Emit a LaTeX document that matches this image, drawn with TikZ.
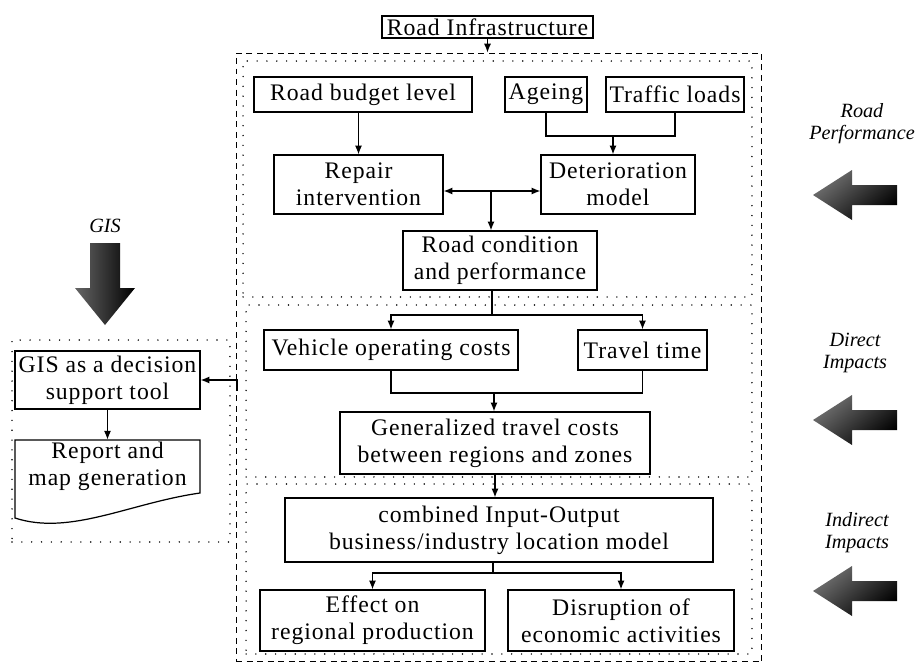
\documentclass[tikz,border=0pt]{standalone}
\usepackage{fontspec}
\setmainfont[LetterSpace=4]{Liberation Serif}
\newfontfamily\sidefamily{Liberation Serif}
\usetikzlibrary{arrows.meta,positioning}
\newcommand{\boxfont}{\fontsize{13.5}{15.4}\selectfont}
\newcommand{\sidefont}{\sidefamily\fontsize{11.5}{12.5}\selectfont\itshape}

\begin{document}
\begin{tikzpicture}[x=0.02cm,y=-0.02cm,
  box/.style={draw,line width=0.7pt,inner sep=0pt,align=center,font=\boxfont},
  frame/.style={draw,line width=0.6pt,dash pattern=on 3.4pt off 2.6pt,inner sep=0pt},
  zone/.style={draw,line width=0.9pt,dash pattern=on 0pt off 5.6pt,line cap=round,inner sep=0pt},
  link/.style={line width=0.7pt},
  arr/.style={link,-{Latex[length=5pt,width=4pt]}},
  biarr/.style={link,{Latex[length=5pt,width=4pt]}-{Latex[length=5pt,width=4pt]}},
  downarrow/.style={draw=none,left color=black!60,right color=black},
  sidearrow/.style={draw=none,top color=black!55,bottom color=black,shading angle=40},
  side/.style={font=\sidefont,align=center,inner sep=0pt}]
\useasboundingbox (0,0) rectangle (919,666);
% frames
\node[frame,minimum width=10.52cm,minimum height=12.18cm] (outer) at (499,357.5) {};
\node[zone,minimum width=10.18cm,minimum height=4.72cm] (zonetop) at (497.5,179) {};
\node[zone,minimum width=10.12cm,minimum height=3.44cm] (zonemid) at (499,391) {};
\node[zone,minimum width=10.12cm,minimum height=3.4cm] (zonebot) at (499,569) {};
\node[zone,minimum width=4.36cm,minimum height=4.04cm] (zonegis) at (121,441) {};
%
\node[box,minimum width=4.22cm,minimum height=0.44cm] (infra) at (487.5,27) {Road Infrastructure};
\node[box,minimum width=4.36cm,minimum height=0.7cm] (budget) at (363,94.5) {Road budget level};
\node[box,minimum width=1.64cm,minimum height=0.7cm] (ageing) at (546,94.5) {Ageing};
\node[box,minimum width=2.76cm,minimum height=0.7cm] (traffic) at (675,94.5) {Traffic loads};
\node[box,minimum width=3.38cm,minimum height=1.18cm] (repair) at (358.5,184.5) {Repair\\intervention};
\node[box,minimum width=3.08cm,minimum height=1.18cm] (deter) at (618,184.5) {Deterioration\\model};
\node[box,minimum width=3.88cm,minimum height=1.18cm] (cond) at (500,260.5) {Road condition\\and performance};
%
\node[box,minimum width=5.08cm,minimum height=0.8cm] (voc) at (391,350) {Vehicle operating costs};
\node[box,minimum width=2.58cm,minimum height=0.8cm] (ttime) at (642.5,350) {Travel time};
\node[box,minimum width=6.2cm,minimum height=1.24cm] (gen) at (495,443) {Generalized travel costs\\between regions and zones};
%
\node[box,minimum width=8.56cm,minimum height=1.28cm] (combined) at (499,530) {combined Input-Output\\business/industry location model};
\node[box,minimum width=4.5cm,minimum height=1.22cm] (effect) at (372.5,620.5) {Effect on\\regional production};
\node[box,minimum width=4.52cm,minimum height=1.22cm] (disrupt) at (621,620.5) {Disruption of\\economic activities};
%
\node[box,minimum width=3.7cm,minimum height=1.16cm] (gisbox) at (107.5,380) {GIS as a decision\\support tool};
\node[align=center,font=\boxfont,inner sep=0pt,minimum width=3.7cm,minimum height=1.06cm] (report) at (107.5,466.5) {Report and\\map generation};
\draw[link] (15,440) -- (200,440) -- (200,493) .. controls (130,503) and (70,536) .. (15,518) -- cycle;
%
\draw[arr] (infra.south) -- (infra.south |- outer.north);
\draw[arr] (repair.north |- budget.south) -- (repair.north);
\coordinate (agejoin) at (613,136);
\draw[link] (ageing.south) |- (agejoin) -| (traffic.south);
\draw[arr] (agejoin) -- (agejoin |- deter.north);
\coordinate (mid1) at (491,191);
\draw[biarr] (repair.east |- mid1) -- (deter.west |- mid1);
\draw[arr] (mid1) -- (mid1 |- cond.north);
%
\coordinate (condsplit) at (492,315);
\draw[link] (condsplit |- cond.south) -- (condsplit);
\draw[arr] (condsplit) -| (voc.north);
\draw[arr] (condsplit) -| (ttime.north);
\coordinate (costjoin) at (494,393);
\draw[link] (voc.south) |- (costjoin) -| (ttime.south);
\draw[arr] (costjoin) -- (costjoin |- gen.north);
\draw[arr] (gen.south) -- (gen.south |- combined.north);
\coordinate (ecosplit) at (493,573);
\draw[link] (ecosplit |- combined.south) -- (ecosplit);
\draw[arr] (ecosplit) -| (effect.north);
\draw[arr] (ecosplit) -| (disrupt.north);
%
\draw[arr] (gisbox.south) -- (report.north);
\coordinate (gisin) at (237,391);
\draw[arr] (gisin) |- (gisbox.east);
% big arrows
\path[downarrow] (90,243) -- (120,243) -- (120,288) -- (135,288) -- (105,325) -- (75,288) -- (90,288) -- cycle;
\foreach \y in {195,420,591}
  \path[sidearrow] (897,\y-10) -- (852,\y-10) -- (852,\y-25) -- (813,\y) -- (852,\y+25) -- (852,\y+10) -- (897,\y+10) -- cycle;
\node[side] (gislabel) at (105,226) {GIS};
\node[side] (perflabel) at (862,124) {Road\\Performance};
\node[side] (directlabel) at (855,353) {Direct\\Impacts};
\node[side] (indirectlabel) at (857,533) {Indirect\\Impacts};
\end{tikzpicture}
\end{document}
